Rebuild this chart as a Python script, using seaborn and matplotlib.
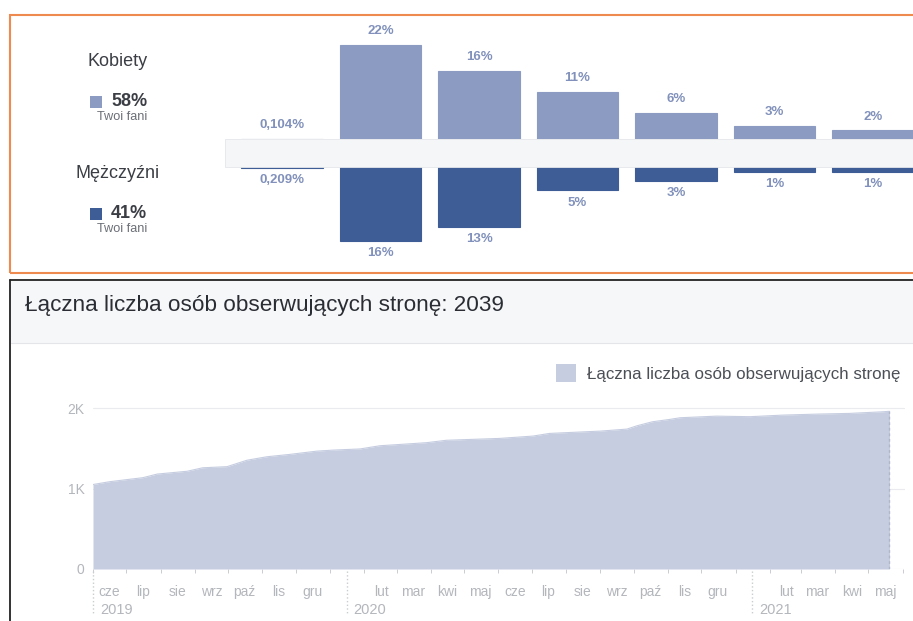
import numpy as np
import pandas as pd
import matplotlib.pyplot as plt
import matplotlib.dates as mdates
from matplotlib.patches import Rectangle
from matplotlib.lines import Line2D
import seaborn as sns

sns.set_theme(style='white')
plt.rcParams['font.family'] = ['Liberation Sans', 'DejaVu Sans']

# Dane - fani wg wieku i plci
grupy_wiekowe = ['13-17', '18-24', '25-34', '35-44', '45-54', '55-64', '65+']
kobiety = [0.104, 22, 16, 11, 6, 3, 2]
mezczyzni = [0.209, 16, 13, 5, 3, 1, 1]
etykiety_kobiety = ['0,104%', '22%', '16%', '11%', '6%', '3%', '2%']
etykiety_mezczyzni = ['0,209%', '16%', '13%', '5%', '3%', '1%', '1%']

# Dane - laczna liczba obserwujacych
daty = pd.to_datetime([
    '2019-06-01', '2019-06-16', '2019-07-16', '2019-07-29', '2019-08-25',
    '2019-09-08', '2019-09-30', '2019-10-18', '2019-11-05', '2019-11-26',
    '2019-12-20', '2020-01-04', '2020-01-28', '2020-02-15', '2020-03-04',
    '2020-03-28', '2020-04-15', '2020-06-02', '2020-07-02', '2020-07-17',
    '2020-09-01', '2020-09-25', '2020-10-04', '2020-10-18', '2020-11-03',
    '2020-11-12', '2020-12-15', '2021-01-14', '2021-02-13', '2021-03-15',
    '2021-04-14', '2021-05-14', '2021-05-20'])
obserwujacy = [1050, 1085, 1135, 1180, 1215, 1258, 1272, 1352, 1395, 1425,
               1465, 1478, 1492, 1532, 1548, 1570, 1600, 1623, 1652, 1685,
               1714, 1739, 1780, 1830, 1860, 1880, 1900, 1893, 1913, 1925,
               1934, 1954, 1960]
nazwy_miesiecy = ['sty', 'lut', 'mar', 'kwi', 'maj', 'cze', 'lip', 'sie',
                  'wrz', 'paź', 'lis', 'gru']
lata = ['2019', '2020', '2021']
podzialy_lat = pd.to_datetime(['2019-06-01', '2020-01-16', '2021-01-16'])

kol_k = '#8b9bc2'
kol_m = '#3e5c96'
kol_etyk = '#8191bb'
kol_area = '#c6cde0'
kol_szary = '#b3b6bb'

W, H = 913, 621


def rect(l, t, r, b):
    return [l / W, 1 - b / H, (r - l) / W, (b - t) / H]


fig = plt.figure(figsize=(W / 100, H / 100), dpi=100)

# ---- panel gorny ----
fig.patches.append(Rectangle((10 / W, 1 - 273 / H), 920 / W, 258 / H,
                             transform=fig.transFigure, fill=False,
                             edgecolor='#ee8a50', lw=1.5))
fig.patches.append(Rectangle((225 / W, 1 - 167 / H), (913 - 225) / W, 28 / H,
                             transform=fig.transFigure, facecolor='#f5f6f8',
                             edgecolor='#e4e6ea', lw=0.6))

ax_k = fig.add_axes(rect(225, 32, 913, 139))
sns.barplot(x=grupy_wiekowe, y=kobiety, color=kol_k, saturation=1, width=0.83,
            edgecolor=kol_k, linewidth=0.8, ax=ax_k)
ax_k.set_xlim(-0.579, 6.406)
ax_k.set_ylim(0, 25)
ax_k.axis('off')
for i, (v, t) in enumerate(zip(kobiety, etykiety_kobiety)):
    ax_k.annotate(t, (i, v), xytext=(0, 10), textcoords='offset points',
                  ha='center', va='center', fontsize=9.5, fontweight='bold',
                  color=kol_etyk)
for i, g in enumerate(grupy_wiekowe):
    ax_k.text(i, -16 / 107, g, transform=ax_k.get_xaxis_transform(),
              ha='center', va='center', fontsize=7.8, color='#6b6f76')

ax_m = fig.add_axes(rect(225, 167, 913, 259))
sns.barplot(x=grupy_wiekowe, y=mezczyzni, color=kol_m, saturation=1, width=0.83,
            edgecolor=kol_m, linewidth=0.8, ax=ax_m)
ax_m.set_xlim(-0.579, 6.406)
ax_m.set_ylim(20, 0)
ax_m.axis('off')
for i, (v, t) in enumerate(zip(mezczyzni, etykiety_mezczyzni)):
    ax_m.annotate(t, (i, v), xytext=(0, -9), textcoords='offset points',
                  ha='center', va='center', fontsize=9.5, fontweight='bold',
                  color=kol_etyk)

# legenda po lewej
for py, nazwa, proc, kol in [(60, 'Kobiety', '58%', kol_k),
                             (172, 'Mężczyźni', '41%', kol_m)]:
    fig.text(118 / W, 1 - (py + 1) / H, nazwa, ha='center', va='center',
             fontsize=13, color='#3b3e44')
    fig.patches.append(Rectangle((90 / W, 1 - (py + 48) / H), 12 / W, 12 / H,
                                 transform=fig.transFigure, facecolor=kol,
                                 edgecolor='none'))
    fig.text(111 / W, 1 - (py + 42) / H, proc, ha='left', va='center',
             fontsize=13, fontweight='bold', color='#3b3e44')
    fig.text(122 / W, 1 - (py + 57) / H, 'Twoi fani', ha='center', va='center',
             fontsize=9.2, color='#6b6f76')

# ---- panel dolny ----
fig.patches.append(Rectangle((11 / W, 1 - 343 / H), (913 - 11) / W, 62 / H,
                             transform=fig.transFigure, facecolor='#f6f7f9',
                             edgecolor='none'))
fig.add_artist(Line2D([11 / W, 1], [1 - 343 / H] * 2, color='#e3e5e8', lw=0.8))
fig.add_artist(Line2D([10 / W, 10 / W], [0, 1 - 280 / H], color='#222222', lw=1.3))
fig.add_artist(Line2D([10 / W, 1], [1 - 280 / H] * 2, color='#222222', lw=1.3))
fig.text(25 / W, 1 - 305 / H, 'Łączna liczba osób obserwujących stronę: 2039',
         ha='left', va='center', fontsize=16.2, color='#2a2d33')

ax_a = fig.add_axes(rect(93, 392, 905, 569))
sns.lineplot(x=daty, y=obserwujacy, color=kol_area, lw=0.8, ax=ax_a)
obszar = ax_a.fill_between(daty, obserwujacy, color=kol_area, lw=0,
                           label='Łączna liczba osób obserwujących stronę')
ax_a.plot([daty[-1], daty[-1]], [0, obserwujacy[-1]], ls=(0, (2, 2)),
          color='#aeb6cc', lw=1)
ax_a.set_xlim(pd.Timestamp('2019-06-01'), pd.Timestamp('2021-06-03'))
ax_a.set_ylim(0, 2200)
ax_a.set_yticks([0, 1000, 2000], ['0', '1K', '2K'])
ax_a.yaxis.grid(True, color='#e9ebee', lw=0.8)
ax_a.xaxis.grid(False)
for s in ax_a.spines.values():
    s.set_visible(False)
ax_a.set_facecolor('none')
ax_a.tick_params(axis='y', length=0, pad=6, labelsize=10, labelcolor=kol_szary)

poczatki = pd.date_range('2019-06-01', '2021-06-01', freq='MS')
srodki = poczatki[:-1] + pd.Timedelta(days=15)
etykiety_m = ['' if d.month == 1 else nazwy_miesiecy[d.month - 1]
              for d in poczatki[:-1]]
ax_a.set_xticks(mdates.date2num(srodki), etykiety_m)
ax_a.set_xticks(mdates.date2num(poczatki), minor=True)
ax_a.tick_params(axis='x', which='major', length=0, pad=11.5, labelsize=10,
                 labelcolor=kol_szary)
ax_a.tick_params(axis='x', which='minor', bottom=True, length=3, width=0.7,
                 color='#c9ccd1', direction='out')
ax_a.set_xlabel('')
ax_a.set_ylabel('')

tr = ax_a.get_xaxis_transform()
for d, rok in zip(mdates.date2num(podzialy_lat), lata):
    ax_a.plot([d, d], [-0.01, -0.26], transform=tr, ls=':', color='#c9ccd1',
              lw=1, clip_on=False)
    ax_a.annotate(rok, (d, -0.232), xycoords=tr, xytext=(5, 0),
                  textcoords='offset points', ha='left', va='center',
                  fontsize=10.5, color=kol_szary)

fig.legend(handles=[obszar], loc='center right',
           bbox_to_anchor=(900 / W, 1 - 373 / H), frameon=False, fontsize=12.2,
           handlelength=1.2, handleheight=1.2, handletextpad=0.6,
           labelcolor='#4b4f56', borderaxespad=0, borderpad=0)

fig.savefig('out.png', dpi=100)
